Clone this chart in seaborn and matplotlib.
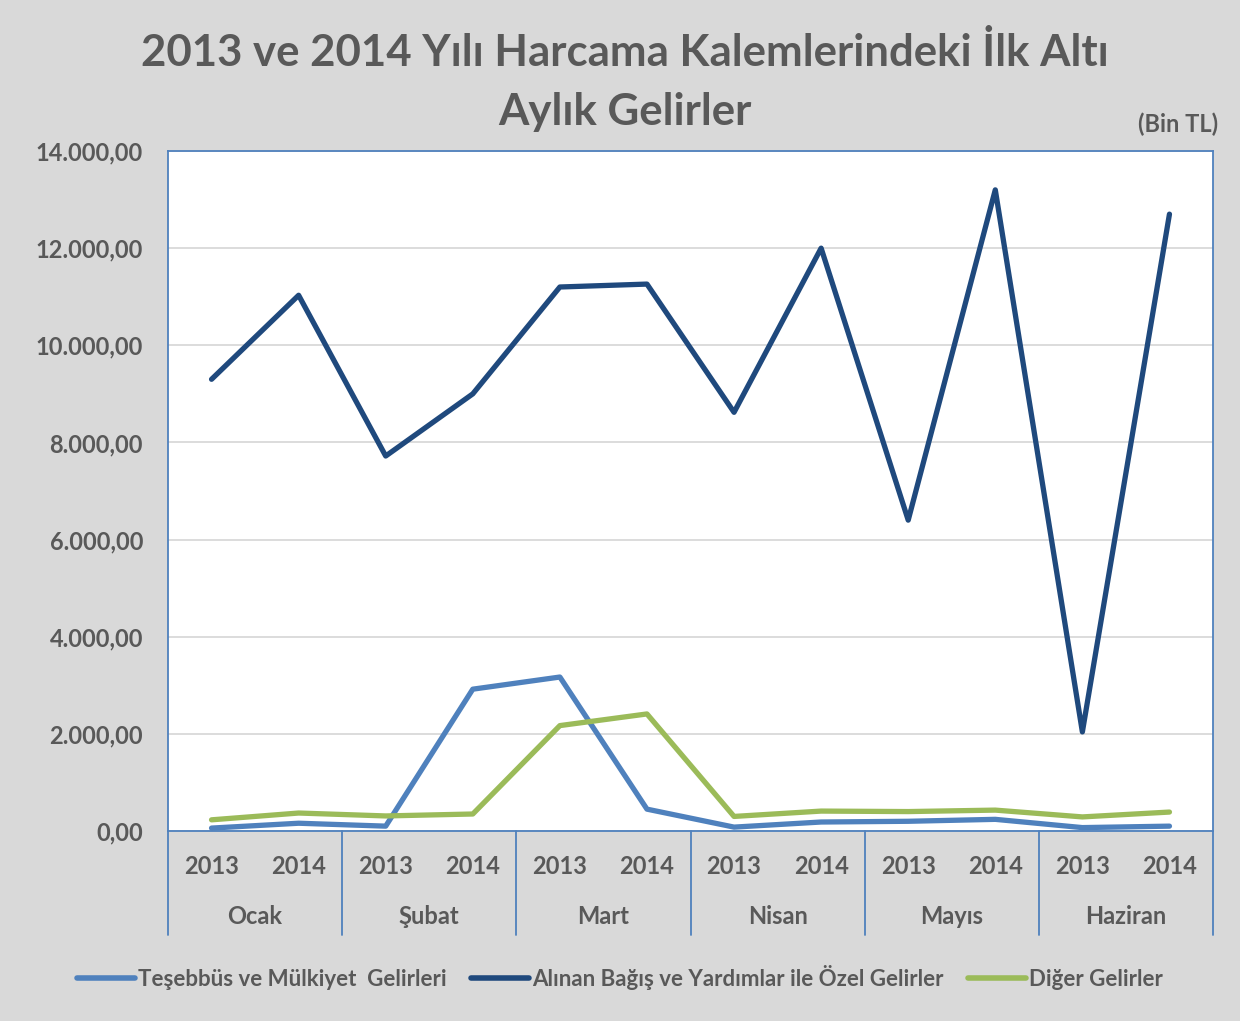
import matplotlib
matplotlib.use('Agg')
import matplotlib.pyplot as plt
import seaborn as sns
import pandas as pd

# veriler (Bin TL)
aylar = ['Ocak', 'Şubat', 'Mart', 'Nisan', 'Mayıs', 'Haziran']
yillar = ['2013', '2014']
tesebbus = [60, 160, 100, 2920, 3170, 450, 80, 185, 200, 240, 70, 100]
bagis = [9300, 11030, 7720, 9000, 11200, 11260, 8620, 12000, 6400, 13200, 2040, 12700]
diger = [230, 370, 310, 350, 2170, 2410, 300, 410, 400, 430, 290, 390]
seri_adlari = ['Teşebbüs ve Mülkiyet  Gelirleri',
               'Alınan Bağış ve Yardımlar ile Özel Gelirler',
               'Diğer Gelirler']
renkler = ['#4f81bd', '#1f497d', '#9bbb59']

rows = []
for ad, vals in zip(seri_adlari, [tesebbus, bagis, diger]):
    for i, v in enumerate(vals):
        rows.append({'idx': i, 'deger': v, 'seri': ad})
df = pd.DataFrame(rows)

sns.set_style('white')
plt.rcParams['font.family'] = ['Lato', 'DejaVu Sans']
gri = '#595959'

fig = plt.figure(figsize=(12.4, 10.21), dpi=100, facecolor='#d9d9d9')
ax = fig.add_axes([168 / 1240, 1 - 831 / 1021, 1045 / 1240, 680 / 1021])
ax.set_facecolor('white')

sns.lineplot(data=df, x='idx', y='deger', hue='seri', hue_order=seri_adlari,
             palette=renkler, linewidth=3.8, ax=ax, legend=False, sort=False)
for ln in ax.lines:
    ln.set_solid_capstyle('round')

ax.set_xlim(-0.5, 11.5)
ax.set_ylim(0, 14000)
ax.set_yticks(range(0, 14001, 2000))
ax.set_yticklabels([f'{v:,.2f}'.replace(',', 'X').replace('.', ',').replace('X', '.')
                    for v in range(0, 14001, 2000)],
                   fontsize=17, fontweight='bold', color=gri)
ax.tick_params(axis='y', length=0, pad=18)
ax.set_xticks([])
ax.set_xlabel('')
ax.set_ylabel('')
ax.grid(axis='y', color='#d9d9d9', linewidth=1.3)
ax.set_axisbelow(True)
for s in ax.spines.values():
    s.set_color('#4f81bd')
    s.set_linewidth(1.3)

# iki seviyeli kategori ekseni
tr = ax.get_xaxis_transform()
for i in range(12):
    ax.text(i, (831 - 866) / 680, yillar[i % 2], transform=tr, ha='center', va='center',
            fontsize=17, fontweight='bold', color=gri)
for j, ay in enumerate(aylar):
    ax.text(2 * j + 0.5, (831 - 916) / 680, ay, transform=tr, ha='center', va='center',
            fontsize=17, fontweight='bold', color=gri)
for k in range(7):
    ax.plot([2 * k - 0.5, 2 * k - 0.5], [0, (831 - 935) / 680], transform=tr,
            color='#4f81bd', linewidth=1.3, clip_on=False)

# başlık
fig.text(625 / 1240, 1 - 53 / 1021, '2013 ve 2014 Yılı Harcama Kalemlerindeki İlk Altı',
         ha='center', va='center', fontsize=31.5, fontweight='bold', color=gri)
fig.text(625 / 1240, 1 - 112 / 1021, 'Aylık Gelirler',
         ha='center', va='center', fontsize=31.5, fontweight='bold', color=gri)
fig.text(1178 / 1240, 1 - 124 / 1021, '(Bin TL)',
         ha='center', va='center', fontsize=17, fontweight='bold', color=gri)

# lejant
handles = [plt.Line2D([0], [0], color=c, linewidth=4, solid_capstyle='round') for c in renkler]
leg = fig.legend(handles, seri_adlari, loc='center', bbox_to_anchor=(0.5, 1 - 977 / 1021),
                 ncol=3, frameon=False, handlelength=2.6, handletextpad=0.15, columnspacing=1.1,
                 prop={'size': 16, 'weight': 'bold'})
for t in leg.get_texts():
    t.set_color(gri)

fig.savefig('out.png', dpi=100, facecolor=fig.get_facecolor())
